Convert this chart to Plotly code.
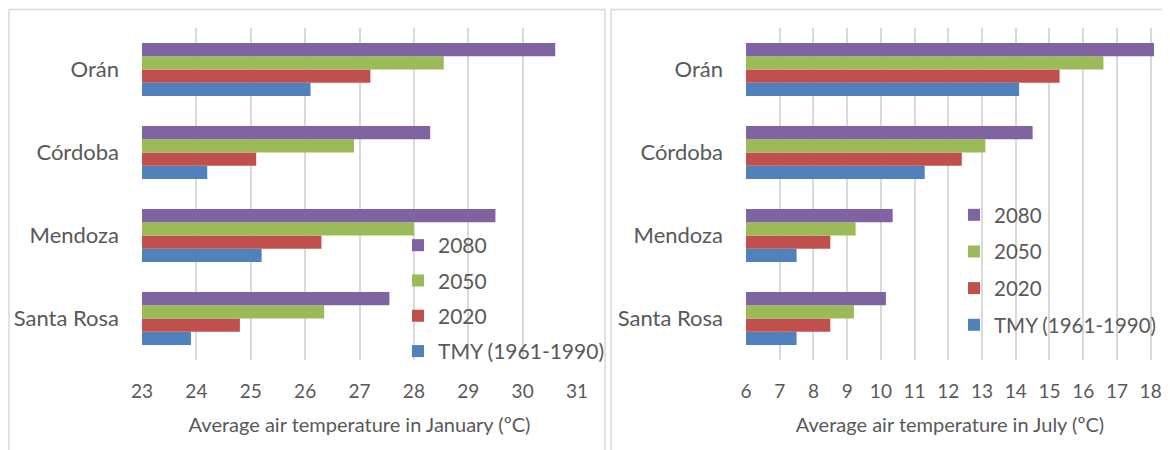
import plotly.graph_objects as go

cities = ["Orán", "Córdoba", "Mendoza", "Santa Rosa"]
series_names = ["TMY (1961-1990)", "2020", "2050", "2080"]
colors = ["#4F81BD", "#C0504D", "#9BBB59", "#8064A2"]

jan_tmy = [26.1, 24.2, 25.2, 23.9]
jan_2020 = [27.2, 25.1, 26.3, 24.8]
jan_2050 = [28.55, 26.9, 28.0, 26.35]
jan_2080 = [30.6, 28.3, 29.5, 27.55]

jul_tmy = [14.1, 11.3, 7.5, 7.5]
jul_2020 = [15.3, 12.4, 8.5, 8.5]
jul_2050 = [16.6, 13.1, 9.25, 9.2]
jul_2080 = [18.1, 14.5, 10.35, 10.15]

jan = [jan_tmy, jan_2020, jan_2050, jan_2080]
jul = [jul_tmy, jul_2020, jul_2050, jul_2080]

FONT = "Lato"
TXT = "#595959"
GRID = "#d9d9d9"

# page body has an 8px margin; figure is drawn at offset (8, 8)
OFF = 8
W, H = 1170 - OFF, 450 - OFF


def fx(px):
    return (px - OFF) / W


def fy(py):
    return 1 - (py - OFF) / H


fig = go.Figure()
for i, name in enumerate(series_names):
    fig.add_trace(go.Bar(
        y=cities, x=jan[i], orientation="h", name=name,
        marker=dict(color=colors[i], line=dict(width=0)),
        xaxis="x", yaxis="y", legend="legend", legendgroup="a" + str(i),
        legendrank=10 - i,
    ))
for i, name in enumerate(series_names):
    fig.add_trace(go.Bar(
        y=cities, x=jul[i], orientation="h", name=name,
        marker=dict(color=colors[i], line=dict(width=0)),
        xaxis="x2", yaxis="y2", legend="legend2", legendgroup="b" + str(i),
        legendrank=10 - i,
    ))

cat_order = cities[::-1]

axis_common = dict(
    showgrid=True, gridcolor=GRID, gridwidth=1.5, zeroline=False,
    showline=False, ticks="", tickfont=dict(family=FONT, size=19, color=TXT),
    ticklabelstandoff=18, fixedrange=True, automargin=False,
)
yaxis_common = dict(
    type="category", categoryorder="array", categoryarray=cat_order,
    showgrid=False, zeroline=False, showline=False, ticks="",
    tickfont=dict(family=FONT, size=22, color=TXT), ticklabelstandoff=22,
    automargin=False, fixedrange=True,
)

fig.update_layout(
    template="none",
    width=W, height=H,
    margin=dict(l=0, r=0, t=0, b=0, autoexpand=False),
    paper_bgcolor="white", plot_bgcolor="white",
    barmode="group", bargap=0.36, bargroupgap=0,
    font=dict(family=FONT, color=TXT),
    xaxis=dict(domain=[fx(142), fx(577)], range=[23, 31], dtick=1, tick0=23,
               title=dict(text="Average air temperature in January (ºC)",
                          font=dict(family=FONT, size=20, color=TXT), standoff=16),
               anchor="y", **axis_common),
    yaxis=dict(domain=[fy(360), fy(28)], anchor="x", **yaxis_common),
    xaxis2=dict(domain=[fx(746), fx(1154)], range=[6, 18.1], dtick=1, tick0=6,
                title=dict(text="Average air temperature in July (ºC)",
                           font=dict(family=FONT, size=20, color=TXT), standoff=16),
                anchor="y2", **axis_common),
    yaxis2=dict(domain=[fy(360), fy(28)], anchor="x2", **yaxis_common),
    legend=dict(x=fx(398), y=fy(225), xanchor="left", yanchor="top",
                traceorder="grouped", tracegroupgap=5,
                bgcolor="rgba(0,0,0,0)", font=dict(family=FONT, size=21, color=TXT)),
    legend2=dict(x=fx(954), y=fy(195), xanchor="left", yanchor="top",
                 traceorder="grouped", tracegroupgap=7,
                 bgcolor="rgba(0,0,0,0)", font=dict(family=FONT, size=20.5, color=TXT)),
    showlegend=True,
    shapes=[
        dict(type="rect", xref="paper", yref="paper",
             x0=fx(9), x1=fx(605), y0=-0.05, y1=fy(9.5),
             line=dict(color=GRID, width=1.5), fillcolor="rgba(0,0,0,0)", layer="below"),
        dict(type="rect", xref="paper", yref="paper",
             x0=fx(611), x1=1.05, y0=-0.05, y1=fy(9.5),
             line=dict(color=GRID, width=1.5), fillcolor="rgba(0,0,0,0)", layer="below"),
    ],
)

fig.write_html("out.html")
